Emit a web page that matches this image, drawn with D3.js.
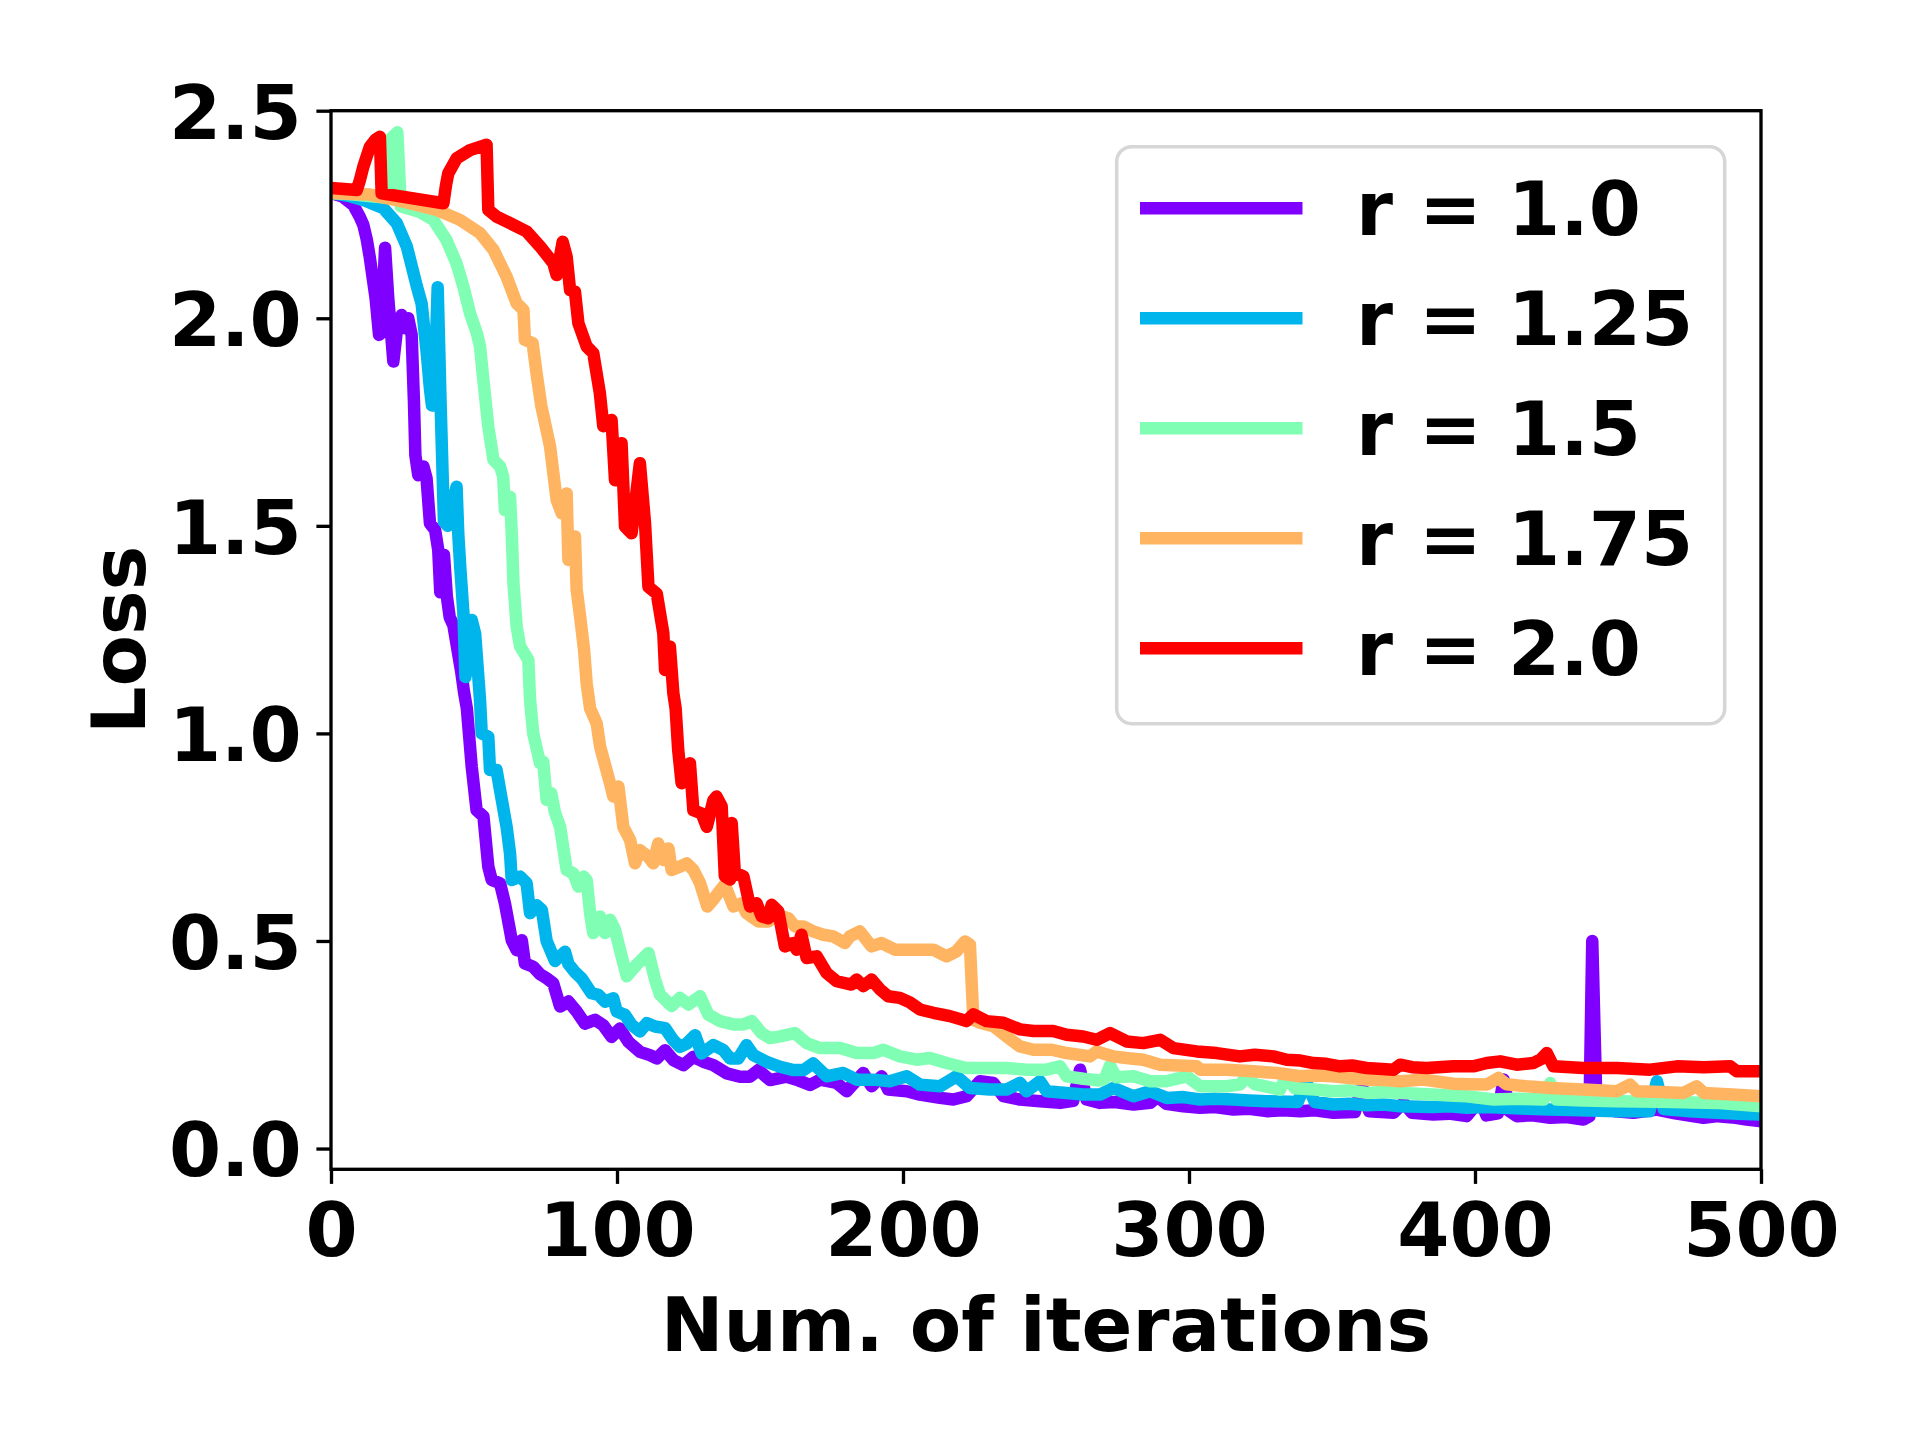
<!DOCTYPE html>
<html>
<head>
<meta charset="utf-8">
<script src="https://cdn.jsdelivr.net/npm/d3@7"></script>
<style>
  body { margin: 0; background: #ffffff; }
  svg text { font-family: "DejaVu Sans", "Liberation Sans", sans-serif; font-weight: bold; fill: #000; }
</style>
</head>
<body>
<svg id="chart" width="1920" height="1440"></svg>
<script>
// ---------------- data ----------------
const seriesLabels = ["r = 1.0", "r = 1.25", "r = 1.5", "r = 1.75", "r = 2.0"];
const seriesColors = ["#8000ff", "#00b5eb", "#80ffb4", "#ffb462", "#ff0000"];
const xTickValues = [0, 100, 200, 300, 400, 500];
const yTickValues = [0.0, 0.5, 1.0, 1.5, 2.0, 2.5];
const xLabel = "Num. of iterations";
const yLabel = "Loss";

// [iteration, loss]
const lossR100 = [[0,2.302],[4,2.293],[7.8,2.273],[10,2.245],[11.3,2.225],[12.5,2.19],[13.6,2.145],[15.6,2.048],[16.8,1.96],[17.6,1.965],[18.9,2.17],[20,2.05],[21.8,1.896],[23.2,1.98],[24.7,2.008],[25.9,1.976],[27,2.0],[28.2,1.96],[29,1.80],[29.5,1.67],[30.5,1.622],[32.3,1.643],[33.4,1.615],[34.6,1.506],[36.4,1.49],[37.5,1.442],[38.2,1.34],[39.5,1.43],[40.5,1.33],[41.5,1.28],[42.8,1.26],[44.5,1.19],[45.5,1.15],[46.5,1.10],[47.5,1.06],[49.2,0.92],[50.9,0.815],[53.3,0.80],[55,0.679],[56.2,0.647],[59.1,0.639],[60.8,0.591],[63.2,0.502],[64.9,0.478],[66.7,0.502],[67.8,0.446],[70.7,0.438],[73.1,0.42],[75.4,0.41],[77.7,0.398],[80.1,0.342],[83,0.354],[85.9,0.33],[88.8,0.301],[92.3,0.31],[95.2,0.297],[98.1,0.269],[101,0.289],[104,0.257],[108,0.233],[111.5,0.225],[113.9,0.217],[116.8,0.237],[119.7,0.213],[123.2,0.201],[126.7,0.221],[130.2,0.209],[133.7,0.201],[138.4,0.181],[143,0.173],[146.5,0.173],[149.4,0.189],[153.5,0.165],[159.3,0.173],[162.8,0.166],[167.5,0.153],[171,0.166],[176.8,0.158],[180.3,0.138],[186.1,0.182],[189,0.15],[192.5,0.174],[194.8,0.142],[201.3,0.138],[205.9,0.13],[212.9,0.122],[217.6,0.118],[222.2,0.126],[226.9,0.162],[231.6,0.158],[235.1,0.126],[240.9,0.118],[247.9,0.114],[254.9,0.11],[259.5,0.115],[261.9,0.19],[264.2,0.118],[268.9,0.11],[274,0.112],[280.6,0.106],[286.4,0.11],[289,0.125],[292,0.108],[298,0.102],[303.9,0.098],[309,0.1],[315.5,0.094],[321,0.096],[327.2,0.09],[333,0.092],[338.8,0.09],[344,0.092],[350.5,0.086],[358,0.088],[360.5,0.15],[363,0.09],[371.5,0.086],[375,0.11],[378,0.086],[385.4,0.082],[391,0.084],[397.1,0.078],[401.8,0.118],[404,0.08],[408,0.085],[410,0.166],[412,0.09],[414.6,0.078],[420,0.08],[426.3,0.074],[432,0.076],[437.9,0.07],[440,0.078],[441,0.50],[442.3,0.15],[443.5,0.10],[449,0.09],[455.4,0.086],[463.6,0.094],[470,0.085],[479.9,0.074],[485,0.078],[490,0.075],[495,0.07],[500,0.066]];

const lossR125 = [[0,2.302],[6,2.295],[12,2.283],[18.3,2.265],[23,2.229],[26.5,2.173],[30,2.077],[31.7,2.035],[33.5,1.915],[34.6,1.83],[35.3,1.79],[36.3,1.85],[37.3,2.075],[38.3,1.80],[39.5,1.51],[40.8,1.50],[42.3,1.545],[43.9,1.594],[44.5,1.48],[45.2,1.40],[46.3,1.289],[47,1.136],[49.2,1.273],[50.4,1.24],[52.1,1.081],[52.7,1.0],[55,0.992],[55.6,0.912],[57.9,0.912],[59.1,0.864],[61.4,0.775],[62.6,0.711],[63.2,0.647],[66.1,0.655],[68.4,0.639],[69.6,0.567],[71.9,0.586],[73.7,0.575],[75.4,0.50],[78.3,0.452],[81.8,0.474],[83,0.445],[85.3,0.425],[87.6,0.41],[91.1,0.374],[93.5,0.37],[95.8,0.354],[98.7,0.362],[99.9,0.33],[102.8,0.322],[105.1,0.298],[108,0.282],[110.4,0.302],[113.3,0.294],[116.8,0.29],[119.7,0.261],[122,0.245],[124.4,0.253],[127.3,0.273],[129.6,0.229],[133.7,0.249],[137.2,0.237],[139.5,0.217],[142.4,0.217],[145.3,0.249],[147.7,0.225],[152.3,0.209],[157,0.197],[161.7,0.189],[165.2,0.189],[168.6,0.205],[173.3,0.174],[179.1,0.182],[183.8,0.166],[189.6,0.166],[195.4,0.162],[201.3,0.174],[205.9,0.154],[212.9,0.15],[218.7,0.174],[223.4,0.146],[230.4,0.142],[236.2,0.142],[240.9,0.158],[243.2,0.138],[247.9,0.162],[250.2,0.138],[257.2,0.134],[263,0.13],[268.9,0.13],[273.6,0.146],[280.6,0.126],[286.4,0.138],[292.2,0.122],[298,0.124],[303.9,0.118],[309,0.12],[315.5,0.118],[321,0.116],[327.2,0.114],[338,0.112],[341,0.16],[344,0.112],[350.5,0.106],[356,0.108],[362.1,0.104],[368,0.106],[373.8,0.102],[385,0.1],[391,0.102],[397.1,0.098],[404,0.1],[410,0.098],[418,0.096],[426,0.094],[437,0.092],[449.6,0.09],[461,0.09],[463.6,0.162],[466,0.095],[475,0.09],[484.5,0.086],[492,0.084],[499.7,0.082]];

const lossR150 = [[0,2.302],[8,2.298],[15,2.293],[19.8,2.29],[20.6,2.43],[23.2,2.448],[24.4,2.27],[31.1,2.256],[35.8,2.237],[40.4,2.188],[43.9,2.132],[46.3,2.076],[48.6,2.012],[51,1.964],[52.1,1.932],[53.3,1.85],[55,1.739],[56.8,1.659],[59.1,1.643],[60.2,1.619],[60.8,1.538],[62.6,1.57],[63.2,1.482],[63.8,1.362],[64.9,1.258],[66.1,1.21],[69,1.177],[69.6,1.081],[70.7,1.0],[73.1,0.928],[74.2,0.932],[75.4,0.84],[77,0.856],[78.3,0.81],[80.1,0.775],[82.4,0.671],[84.7,0.663],[86.5,0.631],[88.3,0.655],[89.4,0.647],[90.6,0.567],[91.7,0.519],[94.1,0.559],[95.8,0.519],[97.6,0.551],[99.3,0.527],[101.6,0.463],[103.4,0.415],[106.9,0.443],[111,0.471],[113.3,0.407],[115,0.371],[119.1,0.343],[122,0.363],[125,0.347],[129,0.367],[131.9,0.323],[136,0.307],[140.7,0.299],[144.2,0.299],[147.1,0.307],[150.6,0.278],[153.5,0.266],[157,0.27],[162.2,0.278],[166.3,0.254],[171,0.242],[178,0.242],[183.8,0.23],[189.6,0.23],[193.1,0.238],[198.9,0.222],[204.8,0.214],[209.4,0.218],[215.2,0.206],[222.2,0.194],[229.2,0.194],[236.2,0.194],[243.2,0.19],[250.2,0.19],[254.9,0.198],[257.2,0.174],[263,0.168],[268.9,0.164],[270.5,0.168],[272.4,0.20],[274.5,0.172],[280.6,0.174],[286.4,0.162],[292,0.162],[299.2,0.174],[303.9,0.15],[313.2,0.15],[318,0.155],[320.2,0.174],[323,0.155],[331.8,0.142],[334.2,0.175],[337,0.145],[344,0.142],[350.5,0.138],[356,0.14],[362.1,0.134],[368,0.136],[373.8,0.134],[385.4,0.13],[391,0.128],[397.1,0.126],[406.5,0.118],[415,0.12],[424,0.118],[426.3,0.158],[428.5,0.118],[438,0.116],[449.6,0.114],[465,0.113],[484.5,0.11],[492,0.106],[499.7,0.102]];

const lossR175 = [[0,2.302],[6,2.30],[13.6,2.298],[25.3,2.281],[37,2.261],[45.1,2.237],[52.1,2.205],[56.8,2.165],[61.4,2.10],[64.9,2.036],[67.3,2.02],[67.8,1.948],[70.5,1.94],[71.9,1.866],[73.5,1.79],[76.6,1.691],[78.9,1.562],[80.7,1.53],[82.4,1.578],[83,1.418],[85.3,1.474],[85.9,1.346],[87.1,1.282],[88.5,1.20],[89.4,1.12],[90.6,1.06],[92.9,1.024],[94.1,0.968],[97.6,0.879],[98.7,0.848],[100.5,0.872],[102.2,0.775],[104.6,0.743],[106.3,0.687],[108,0.719],[110.9,0.703],[112.7,0.687],[114.4,0.735],[116.2,0.695],[118,0.723],[119.1,0.671],[122,0.679],[124.4,0.687],[126.7,0.671],[129,0.64],[131.6,0.583],[133.7,0.60],[135.4,0.616],[137.7,0.636],[140.7,0.583],[143.6,0.591],[145.3,0.567],[149.4,0.547],[152.9,0.547],[155.8,0.563],[159.9,0.555],[162.2,0.535],[165.1,0.535],[168.6,0.523],[172.1,0.515],[175.6,0.511],[179.7,0.495],[181.4,0.511],[184.9,0.523],[189,0.487],[192.5,0.495],[197.2,0.479],[201.3,0.479],[205.9,0.479],[210.6,0.479],[215.2,0.463],[218.7,0.475],[221.7,0.499],[223.4,0.491],[224.6,0.31],[226.9,0.303],[231.6,0.295],[236.2,0.27],[240.9,0.246],[245.6,0.238],[252,0.238],[257.2,0.23],[265.4,0.222],[267.7,0.234],[273.6,0.222],[278,0.218],[284,0.214],[289.9,0.202],[302.7,0.198],[303.9,0.19],[313.2,0.19],[322.5,0.186],[330.7,0.182],[338.8,0.174],[344,0.176],[350.5,0.174],[356,0.17],[362.1,0.166],[368,0.165],[373.8,0.162],[382,0.166],[392.4,0.156],[398,0.155],[404.1,0.154],[408.2,0.17],[411,0.155],[418,0.15],[426.3,0.146],[432,0.144],[437.9,0.142],[449.6,0.138],[454.2,0.154],[456.5,0.138],[465,0.136],[472.9,0.134],[477.5,0.15],[480,0.134],[490,0.13],[499.7,0.126]];

const lossR200 = [[0,2.314],[9,2.309],[10,2.33],[11.3,2.365],[13.6,2.413],[15.5,2.43],[17.1,2.437],[17.7,2.301],[39.3,2.277],[40.2,2.32],[41,2.349],[43.9,2.385],[48.6,2.405],[54.4,2.418],[55,2.261],[57.9,2.245],[62.6,2.229],[68.4,2.209],[73.1,2.173],[77.7,2.133],[78.9,2.104],[81,2.184],[82.4,2.148],[83.6,2.068],[85.3,2.064],[86.5,1.988],[89.4,1.932],[91.7,1.916],[94,1.82],[95.2,1.74],[98.1,1.755],[99.3,1.61],[101.6,1.699],[102.8,1.498],[105.1,1.482],[108,1.651],[109.8,1.506],[111,1.353],[113.9,1.337],[116.2,1.241],[116.8,1.153],[118.5,1.209],[119.7,1.097],[120.5,1.06],[121.4,0.96],[122.6,0.88],[125.5,0.928],[126.7,0.815],[129.6,0.807],[131.4,0.775],[133.7,0.839],[134.8,0.848],[136.6,0.824],[137.7,0.656],[139.5,0.648],[140.1,0.784],[141.2,0.664],[144.2,0.656],[146.5,0.583],[148.8,0.591],[150.6,0.559],[152.9,0.555],[154.1,0.587],[156.4,0.571],[158.7,0.487],[161.6,0.495],[162.8,0.479],[164.5,0.515],[166.3,0.459],[169.8,0.463],[173.3,0.423],[176.8,0.403],[182,0.395],[183.8,0.407],[186.1,0.391],[189,0.407],[192,0.383],[194.8,0.367],[198.9,0.363],[202.4,0.352],[205.9,0.335],[210.6,0.327],[216.4,0.319],[222.2,0.307],[224.6,0.323],[229.2,0.307],[235.1,0.303],[240.9,0.287],[245.6,0.283],[252.5,0.283],[257.2,0.274],[263,0.27],[267.7,0.262],[272.4,0.278],[278.2,0.258],[284,0.254],[289.9,0.262],[294.5,0.242],[302.7,0.234],[309.7,0.23],[317.8,0.222],[323,0.226],[329.5,0.222],[334.2,0.214],[339,0.212],[343.5,0.206],[348,0.204],[352.8,0.198],[357,0.2],[362.1,0.194],[371.5,0.19],[373.8,0.202],[378,0.196],[383.1,0.194],[392.4,0.198],[399.4,0.198],[404.1,0.206],[408.8,0.21],[414.6,0.202],[420.4,0.206],[423,0.215],[425.1,0.23],[427.4,0.198],[437.9,0.194],[449.6,0.194],[461.2,0.19],[470.6,0.198],[480,0.196],[489.2,0.198],[491.5,0.186],[499.7,0.186]];

const allSeries = [lossR100, lossR125, lossR150, lossR175, lossR200];

// ---------------- layout ----------------
const svg = d3.select("#chart");
svg.append("rect").attr("width", 1920).attr("height", 1440).attr("fill", "#ffffff");

const plot = { left: 331, right: 1761, top: 110.7, bottom: 1169.3 };
const fontPx = 75;
const tickLen = 14.6, tickPad = 14.6, spineW = 3.33, lineW = 12.5;

const x = d3.scaleLinear().domain([0, 500]).range([plot.left, plot.right]);
const y = d3.scaleLinear().domain([-0.05, 2.5]).range([plot.bottom, plot.top]);

svg.append("defs").append("clipPath").attr("id", "clip")
  .append("rect")
  .attr("x", plot.left).attr("y", plot.top)
  .attr("width", plot.right - plot.left).attr("height", plot.bottom - plot.top);

// lines
const line = d3.line().x(d => x(d[0])).y(d => y(d[1]));
const lines = svg.append("g").attr("clip-path", "url(#clip)");
allSeries.forEach((s, i) => {
  lines.append("path")
    .datum(s)
    .attr("d", line)
    .attr("fill", "none")
    .attr("stroke", seriesColors[i])
    .attr("stroke-width", lineW)
    .attr("stroke-linejoin", "round")
    .attr("stroke-linecap", "square");
});

// axes
const xAxis = d3.axisBottom(x).tickValues(xTickValues).tickFormat(d3.format("d"))
  .tickSize(tickLen).tickPadding(tickPad).tickSizeOuter(0);
const yAxis = d3.axisLeft(y).tickValues(yTickValues).tickFormat(d3.format(".1f"))
  .tickSize(tickLen).tickPadding(tickPad).tickSizeOuter(0);

const gx = svg.append("g").attr("transform", `translate(0,${plot.bottom})`).call(xAxis);
const gy = svg.append("g").attr("transform", `translate(${plot.left},0)`).call(yAxis);
[gx, gy].forEach(g => {
  g.select(".domain").remove();
  g.selectAll(".tick line").attr("stroke", "#000").attr("stroke-width", spineW);
  g.selectAll(".tick text")
    .attr("font-size", fontPx)
    .attr("font-family", "DejaVu Sans")
    .attr("font-weight", "bold")
    .attr("fill", "#000");
});
gx.selectAll(".tick text").attr("dy", null).attr("y", 86.7);
gy.selectAll(".tick text").attr("dy", "0.364em");

// frame (spines)
svg.append("rect")
  .attr("x", plot.left).attr("y", plot.top)
  .attr("width", plot.right - plot.left).attr("height", plot.bottom - plot.top)
  .attr("fill", "none").attr("stroke", "#000").attr("stroke-width", spineW);

// axis labels
svg.append("text")
  .attr("x", (plot.left + plot.right) / 2).attr("y", 1351)
  .attr("text-anchor", "middle").attr("font-size", fontPx)
  .text(xLabel);
svg.append("text")
  .attr("transform", `translate(145,${(plot.top + plot.bottom) / 2}) rotate(-90)`)
  .attr("text-anchor", "middle").attr("font-size", fontPx)
  .text(yLabel);

// legend
const legend = svg.append("g");
const box = { x: 1116.7, y: 146.7, w: 608, h: 577 };
legend.append("rect")
  .attr("x", box.x).attr("y", box.y).attr("width", box.w).attr("height", box.h)
  .attr("rx", 15).attr("ry", 15)
  .attr("fill", "#ffffff").attr("fill-opacity", 0.8)
  .attr("stroke", "#cccccc").attr("stroke-opacity", 0.8).attr("stroke-width", 3.5);
const rowY = d3.scaleLinear().domain([0, 1]).range([208.3, 318.3]);
seriesLabels.forEach((lab, i) => {
  const ry = rowY(i);
  legend.append("line")
    .attr("x1", 1146.25).attr("x2", 1296.25).attr("y1", ry).attr("y2", ry)
    .attr("stroke", seriesColors[i]).attr("stroke-width", lineW)
    .attr("stroke-linecap", "square");
  legend.append("text")
    .attr("x", 1356).attr("y", ry + 27)
    .attr("font-size", fontPx)
    .text(lab);
});
</script>
</body>
</html>
